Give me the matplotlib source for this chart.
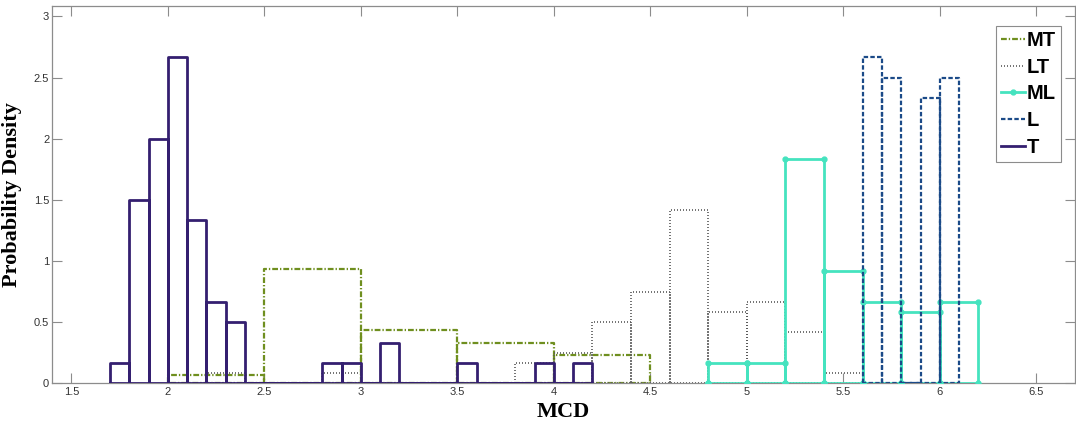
import numpy as np
import matplotlib
matplotlib.use("Agg")
import matplotlib.pyplot as plt

# ---- histogram data (bin edges and probability densities) ----
mt_edges = [2.0, 2.5, 3.0, 3.5, 4.0, 4.5]
mt_density = [0.0667, 0.9333, 0.4333, 0.3333, 0.2333]

lt_edges = [2.2, 2.4, 2.6, 2.8, 3.0, 3.2, 3.4, 3.6, 3.8, 4.0,
            4.2, 4.4, 4.6, 4.8, 5.0, 5.2, 5.4, 5.6]
lt_density = [0.0833, 0, 0, 0.0833, 0, 0, 0, 0, 0.1667, 0.25,
              0.5, 0.75, 1.4167, 0.5833, 0.6667, 0.4167, 0.0833]

ml_edges = [4.8, 5.0, 5.2, 5.4, 5.6, 5.8, 6.0, 6.2]
ml_density = [0.1667, 0.1667, 1.8333, 0.9167, 0.6667, 0.5833, 0.6667]

l_edges = [5.6, 5.7, 5.8, 5.9, 6.0, 6.1]
l_density = [2.6667, 2.5, 0, 2.3333, 2.5]

t_edges = [1.7, 1.8, 1.9, 2.0, 2.1, 2.2, 2.3, 2.4, 2.5, 2.6, 2.7, 2.8, 2.9,
           3.0, 3.1, 3.2, 3.3, 3.4, 3.5, 3.6, 3.7, 3.8, 3.9, 4.0, 4.1, 4.2]
t_density = [0.1667, 1.5, 2.0, 2.6667, 1.3333, 0.6667, 0.5, 0, 0, 0, 0,
             0.1667, 0.1667, 0, 0.3333, 0, 0, 0, 0.1667, 0, 0, 0, 0.1667,
             0, 0.1667]

series_names = ["MT", "LT", "ML", "L", "T"]
xtick_values = [1.5, 2, 2.5, 3, 3.5, 4, 4.5, 5, 5.5, 6, 6.5]
xtick_labels = ["1.5", "2", "2.5", "3", "3.5", "4", "4.5", "5", "5.5", "6", "6.5"]
ytick_values = [0, 0.5, 1, 1.5, 2, 2.5, 3]
ytick_labels = ["0", "0.5", "1", "1.5", "2", "2.5", "3"]


def bar_outlines(edges, heights):
    """Closed rectangle outline for every histogram bin, NaN-separated."""
    xs, ys = [], []
    for x0, x1, h in zip(edges[:-1], edges[1:], heights):
        xs += [x0, x0, x1, x1, x0, np.nan]
        ys += [0, h, h, 0, 0, np.nan]
    return xs, ys


W, H = 1076, 424
fig = plt.figure(figsize=(W / 100, H / 100), dpi=100)
left, right, top, bottom = 52, 1075, 6, 383.3
ax = fig.add_axes([left / W, (H - bottom) / H, (right - left) / W, (bottom - top) / H])

styles = {
    "MT": dict(color="#6f8f1f", lw=1.6, ls=(0, (2.6, 0.9, 0.6, 0.9))),
    "LT": dict(color="#5a5a5a", lw=1.2, ls=(0, (0.6, 1.2))),
    "ML": dict(color="#45e3bf", lw=2.0, ls="-", marker="o", markersize=3.5),
    "L": dict(color="#1b4a88", lw=1.6, ls=(0, (2, 1))),
    "T": dict(color="#341f70", lw=2.0, ls="-"),
}
data = {
    "MT": (mt_edges, mt_density),
    "LT": (lt_edges, lt_density),
    "ML": (ml_edges, ml_density),
    "L": (l_edges, l_density),
    "T": (t_edges, t_density),
}

for z, name in enumerate(series_names):
    xs, ys = bar_outlines(*data[name])
    st = styles[name]
    ax.plot(xs, ys, color=st["color"], linewidth=st["lw"], linestyle=st["ls"],
            marker=st.get("marker", None), markersize=st.get("markersize", 0),
            markeredgecolor=st["color"], markerfacecolor=st["color"],
            label=name, zorder=2 + z)

ax.set_xlim(1.4, 6.7)
ax.set_ylim(0, 3.085)
ax.set_xticks(xtick_values)
ax.set_xticklabels(xtick_labels)
ax.set_yticks(ytick_values)
ax.set_yticklabels(ytick_labels)

frame_color = "#8c8c8c"
for sp in ax.spines.values():
    sp.set_color(frame_color)
    sp.set_linewidth(0.9)
ax.tick_params(direction="in", length=7, width=0.8, color=frame_color,
               top=True, right=True, labelsize=8, labelcolor="#333333")
ax.tick_params(axis="x", pad=3)
ax.tick_params(axis="y", pad=2)
for lab in ax.get_xticklabels() + ax.get_yticklabels():
    lab.set_family("Liberation Sans")

ax.set_ylabel("Probability Density", family="Liberation Serif",
              fontweight="bold", fontsize=16)
ax.yaxis.set_label_coords((22 - left) / (right - left), 0.5)
ax.set_xlabel("MCD", family="Liberation Serif", fontweight="bold", fontsize=16)
ax.xaxis.set_label_coords(0.5, (bottom - 412) / (bottom - top))
ax.xaxis.label.set_va("center")

leg = ax.legend(loc="upper right",
                bbox_to_anchor=((1061 - left) / (right - left), (bottom - 26) / (bottom - top)),
                borderaxespad=0, numpoints=1, fancybox=False, framealpha=1,
                handlelength=1.2, handletextpad=0.1, borderpad=0.25,
                labelspacing=0.38,
                prop=dict(family="Liberation Sans", weight="bold", size=14.5))
leg.get_frame().set_edgecolor(frame_color)
leg.get_frame().set_linewidth(0.8)

fig.savefig("out.png", dpi=100)
